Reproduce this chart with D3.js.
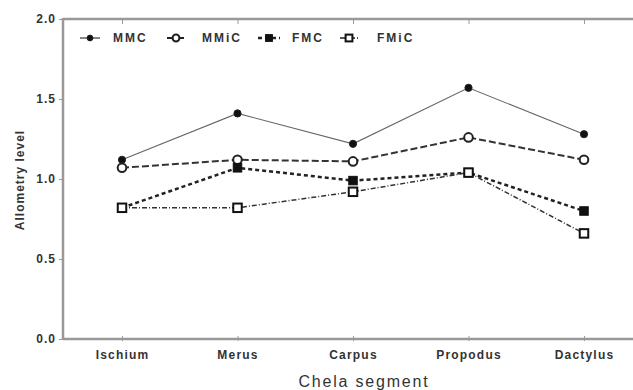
<!DOCTYPE html>
<html>
<head>
<meta charset="utf-8">
<script src="https://cdn.jsdelivr.net/npm/d3@7"></script>
<style>
  body { margin: 0; background: #fff; }
  text { font-family: "Liberation Sans", Arial, sans-serif; }
</style>
</head>
<body>
<svg width="633" height="390"></svg>
<script>
// chela segments along the x axis
let segments = ["Ischium", "Merus", "Carpus", "Propodus", "Dactylus"]
let seriesNames = ["MMC", "MMiC", "FMC", "FMiC"]

// allometry level per segment
let mmc  = [1.12, 1.41, 1.22, 1.57, 1.28]
let mmic = [1.07, 1.12, 1.11, 1.26, 1.12]
let fmc  = [0.82, 1.07, 0.99, 1.04, 0.80]
let fmic = [0.82, 0.82, 0.92, 1.04, 0.66]

let yTicks = [0, 0.5, 1.0, 1.5, 2.0]

let styles = {
  MMC:  {dash: null,      width: 1.1, color: "#666", marker: "circle", fill: true},
  MMiC: {dash: "7,3",     width: 2,   color: "#333", marker: "circle", fill: false},
  FMC:  {dash: "4,3",     width: 2.5, color: "#222", marker: "square", fill: true},
  FMiC: {dash: "5,2,1,2", width: 1.5, color: "#333", marker: "square", fill: false}
}

let series = [
  {name: "MMC", values: mmc},
  {name: "MMiC", values: mmic},
  {name: "FMC", values: fmc},
  {name: "FMiC", values: fmic}
]

let svg = d3.select("svg")
let padL = 63, padT = 19, padR = 633, padB = 339

let x = d3.scalePoint().domain(segments).range([122, 584])
let y = d3.scaleLinear().domain([0, 2]).range([padB, padT])

let axisColor = "#999"

// bottom axis
let gx = svg.append("g").attr("transform", "translate(0," + padB + ")")
  .call(d3.axisBottom(x).tickSize(4).tickPadding(7))
gx.select(".domain").remove()
gx.append("line").attr("x1", padL).attr("x2", padR).attr("stroke", axisColor).attr("stroke-width", 2.5)
gx.selectAll(".tick line").attr("stroke", axisColor).attr("y1", -3).attr("y2", 2)
gx.selectAll(".tick text").attr("fill", "#333").attr("font-size", "12px").attr("font-weight", "bold")
  .attr("letter-spacing", "1.2px")

// top axis (frame)
let gt = svg.append("g").attr("transform", "translate(0," + padT + ")")
  .call(d3.axisTop(x).tickSize(0).tickFormat(""))
gt.select(".domain").remove()
gt.append("line").attr("x1", padL).attr("x2", padR).attr("stroke", axisColor).attr("stroke-width", 2.5)
gt.selectAll(".tick line").attr("stroke", axisColor).attr("y1", -1).attr("y2", 5)

// left axis
let gy = svg.append("g").attr("transform", "translate(" + padL + ",0)")
  .call(d3.axisLeft(y).tickValues(yTicks).tickFormat(d3.format(".1f")).tickSize(4).tickPadding(3))
gy.select(".domain").remove()
gy.append("line").attr("y1", padT - 1).attr("y2", padB + 1).attr("stroke", axisColor).attr("stroke-width", 2.5)
gy.selectAll(".tick line").attr("stroke", axisColor)
gy.selectAll(".tick text").attr("fill", "#333").attr("font-size", "12px").attr("font-weight", "bold")
  .attr("letter-spacing", "1px")

// axis titles
svg.append("text")
  .attr("transform", "translate(24," + 180 + ") rotate(-90)")
  .attr("text-anchor", "middle")
  .attr("font-size", "12px").attr("font-weight", "bold").attr("fill", "#333")
  .attr("letter-spacing", "1px")
  .text("Allometry level")

svg.append("text")
  .attr("x", 364).attr("y", 387)
  .attr("text-anchor", "middle")
  .attr("font-size", "16px").attr("fill", "#333")
  .attr("letter-spacing", "1.8px")
  .text("Chela segment")

let line = d3.line().x((d, i) => x(segments[i])).y((d) => y(d))

let drawMarker = (g, st, cx, cy, k) => {
  if (st.marker == "circle") {
    g.append("circle").attr("cx", cx).attr("cy", cy)
      .attr("r", (st.fill ? 3.6 : 4.3) * k)
      .attr("fill", st.fill ? "#111" : "#fff")
      .attr("stroke", "#222").attr("stroke-width", st.fill ? 1 : 2)
  } else {
    let s = 8.5 * k
    g.append("rect").attr("x", cx - s / 2).attr("y", cy - s / 2)
      .attr("width", s).attr("height", s)
      .attr("fill", st.fill ? "#111" : "#fff")
      .attr("stroke", "#111").attr("stroke-width", st.fill ? 1 : 2)
  }
}

series.forEach((s) => {
  let st = styles[s.name]
  let g = svg.append("g")
  g.append("path")
    .attr("d", line(s.values))
    .attr("fill", "none")
    .attr("stroke", st.color)
    .attr("stroke-width", st.width)
    .attr("stroke-dasharray", st.dash)
  s.values.forEach((v, i) => drawMarker(g, st, x(segments[i]), y(v), 1))
})

// legend
let legX = [80, 167, 258, 340]
let legW = [20, 18, 22, 18]
let legT = [113, 202, 292, 377]
let legY = 38
series.forEach((s, i) => {
  let st = styles[s.name]
  let g = svg.append("g")
  g.append("line")
    .attr("x1", legX[i]).attr("x2", legX[i] + legW[i])
    .attr("y1", legY).attr("y2", legY)
    .attr("stroke", "#222").attr("stroke-width", st.width)
    .attr("stroke-dasharray", st.dash)
  drawMarker(g, st, legX[i] + legW[i] / 2, legY, 0.8)
  g.append("text")
    .attr("x", legT[i]).attr("y", legY + 4)
    .attr("font-size", "12px").attr("font-weight", "bold").attr("fill", "#333")
    .attr("letter-spacing", "2px")
    .text(s.name)
})
</script>
</body>
</html>
